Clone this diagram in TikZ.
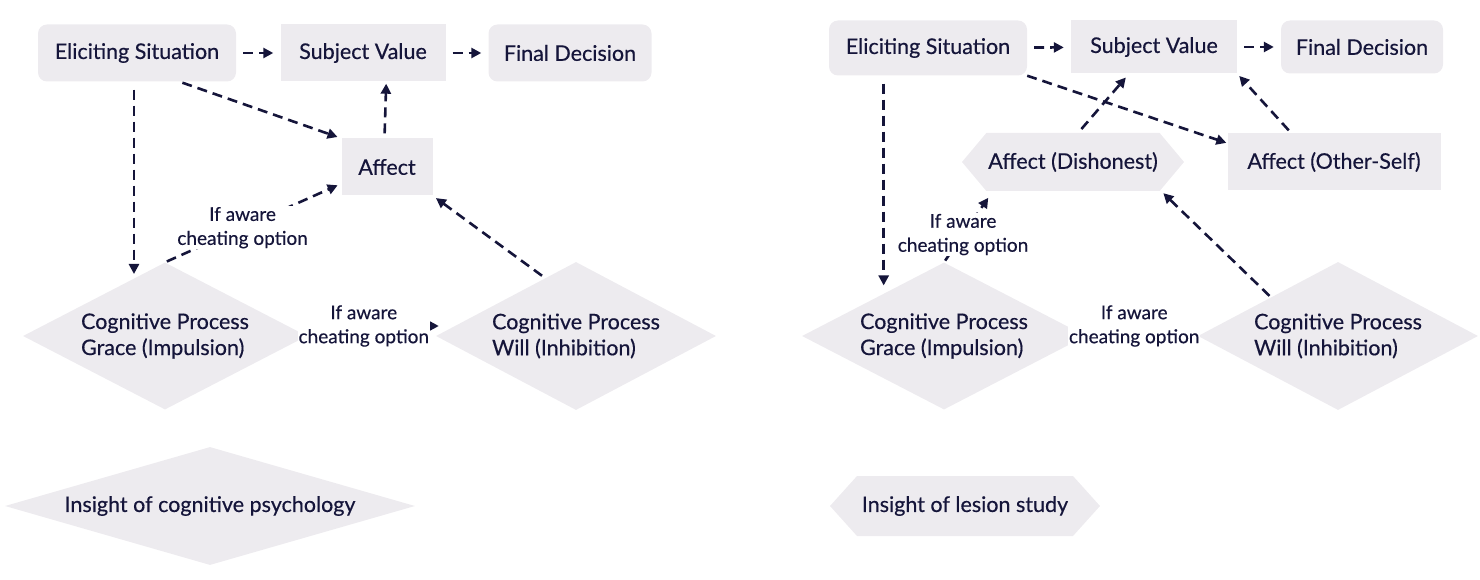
\documentclass[tikz,border=0pt]{standalone}
\usepackage{fontspec}
\setmainfont{Lato}[FakeBold=0.4]
\usetikzlibrary{arrows.meta,shapes.geometric,shapes.symbols}
\definecolor{boxgrey}{HTML}{EDEBEF}
\definecolor{inknavy}{HTML}{15153A}

\begin{document}
\begin{tikzpicture}[x=1pt, y=-1pt,
    every node/.style={font=\fontsize{21.5}{26}\selectfont, text=inknavy},
    box/.style={fill=boxgrey, minimum height=57pt, inner sep=0pt},
    roundbox/.style={box, rounded corners=9pt},
    kite/.style={diamond, fill=boxgrey, inner sep=0pt, align=left},
    hexa/.style={signal, signal to=west and east, fill=boxgrey, inner sep=0pt},
    arr/.style={draw=inknavy, line width=2.6pt, dash pattern=on 10pt off 6pt,
        -{Triangle[length=10pt,width=10pt]}},
    cond/.style={fill=white, inner sep=1pt, align=center,
        font=\fontsize{19}{24}\selectfont}]
    % --- Canvas ---
    \useasboundingbox (0,0) rectangle (1480,580);

    % --- Left panel: cognitive psychology ---
    \node[roundbox, minimum width=198pt] (es) at (137,53) {Eliciting Situation};
    \node[box, minimum width=165pt] (sv) at (363,53) {Subject Value};
    \node[roundbox, minimum width=163pt] (fd) at (570,53) {Final Decision};
    \node[box, minimum width=91pt] (aff) at (387,167) {Affect};
    \node[kite, aspect=2, minimum width=284pt, minimum height=147pt] (grace) at (165,336)
        {Cognitive Process\\Grace (Impulsion)};
    \node[kite, aspect=2, minimum width=280pt, minimum height=148pt] (will) at (576,336)
        {Cognitive Process\\Will (Inhibition)};
    \node[kite, aspect=3.5, minimum width=410pt, minimum height=118pt] (insA) at (210,506)
        {Insight of cognitive psychology};

    % --- Right panel: lesion study ---
    \node[roundbox, minimum width=198pt, minimum height=55pt] (es2) at (928,48) {Eliciting Situation};
    \node[box, minimum width=166pt, minimum height=53pt] (sv2) at (1154,47) {Subject Value};
    \node[roundbox, minimum width=162pt, minimum height=53pt] (fd2) at (1362,47) {Final Decision};
    \node[hexa, signal pointer angle=100, minimum width=222pt, minimum height=58pt] (affd) at (1073,162)
        {Affect (Dishonest)};
    \node[box, minimum width=213pt] (affo) at (1334,162) {Affect (Other-Self)};
    \node[kite, aspect=2, minimum width=284pt, minimum height=147pt] (grace2) at (944,336)
        {Cognitive Process\\Grace (Impulsion)};
    \node[kite, aspect=2, minimum width=280pt, minimum height=148pt] (will2) at (1338,336)
        {Cognitive Process\\Will (Inhibition)};
    \node[hexa, signal pointer angle=96, minimum width=270pt, minimum height=60pt] (insB) at (965,506)
        {Insight of lesion study};

    % --- Arrows along the top rows ---
    \foreach \a/\b in {es/sv, sv/fd, es2/sv2, sv2/fd2} {
        \draw[arr, shorten <=7pt, shorten >=7pt] (\a) -- (\b);
    }

    % --- Arrows: left ---
    \draw[arr, shorten <=3pt, shorten >=4pt] (es.-34) -- (aff.north west);
    \draw[arr, shorten <=8pt] (es.-96) -- (es.-96 |- grace.110);
    \draw[arr, shorten <=5pt, shorten >=2pt] (aff.95) -- (sv.-51);
    \draw[arr, shorten <=2pt, shorten >=4pt] (grace.north) --
        node[cond, pos=0.44] {If aware\\cheating option} (aff.200);
    \draw[arr, shorten <=4pt, shorten >=4pt] (will.118) -- (aff.south east);
    \draw[arr, shorten >=-3pt] ([yshift=10pt]grace.east) --
        node[cond, pos=0.44] {If aware\\cheating option} ([yshift=10pt]will.west);

    % --- Arrows: right ---
    \draw[arr, shorten <=8pt, shorten >=2pt] (es2.-148) -- (es2.-148 |- grace2.135);
    \draw[arr, shorten >=1pt] (es2.south east) -- (affo.170);
    \draw[arr, shorten <=5pt, shorten >=5pt] (affd.80) -- (sv2.-133);
    \draw[arr, shorten <=4pt, shorten >=3pt] (affo.146) -- (sv2.south east);
    \draw[arr, shorten <=2pt, shorten >=8pt] (grace2.north) --
        node[cond, pos=0.39] {If aware\\cheating option} (affd.-160);
    \draw[arr, shorten <=2pt, shorten >=4pt] (will2.150) -- (affd.-18);
    \draw[arr] ([yshift=10pt]grace2.east) --
        node[cond, pos=0.43] {If aware\\cheating option} ([yshift=10pt]will2.west);
\end{tikzpicture}
\end{document}
